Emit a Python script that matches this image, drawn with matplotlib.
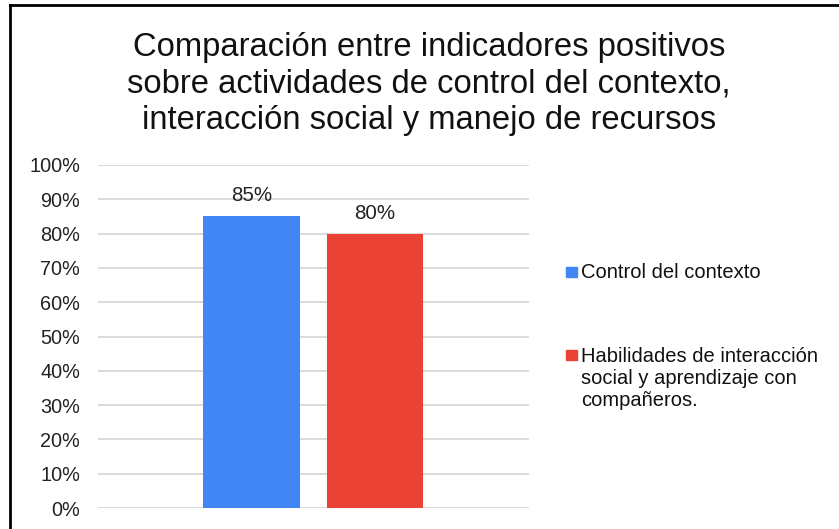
import matplotlib
matplotlib.use("Agg")
import matplotlib.pyplot as plt
from matplotlib.lines import Line2D
from matplotlib.patches import Rectangle

plt.rcParams['font.family'] = ['Liberation Sans', 'DejaVu Sans']

title = "Comparación entre indicadores positivos\nsobre actividades de control del contexto,\ninteracción social y manejo de recursos"
series = ["Control del contexto",
          "Habilidades de interacción\nsocial y aprendizaje con\ncompañeros."]
values = [0.85, 0.80]
value_labels = ["85%", "80%"]
colors = ["#4285F4", "#EA4335"]
yticks = [0, 0.1, 0.2, 0.3, 0.4, 0.5, 0.6, 0.7, 0.8, 0.9, 1.0]
ytick_labels = ["0%", "10%", "20%", "30%", "40%", "50%", "60%", "70%", "80%", "90%", "100%"]

W, H = 839, 529
fig = plt.figure(figsize=(W / 100, H / 100), dpi=100)
fig.patch.set_facecolor("white")

ax = fig.add_axes([98 / W, (H - 508) / H, 431 / W, 343 / H])
xs = [0, 1]
ax.bar(xs, values, width=0.785, color=colors, zorder=3)
for x, v, lab in zip(xs, values, value_labels):
    ax.annotate(lab, (x, v), xytext=(0, 15), textcoords="offset pixels",
                ha="center", va="baseline", fontsize=14.8, color="#222222")
ax.set_xlim(-1.243, 2.247)
ax.set_ylim(0, 1.0)
ax.set_yticks(yticks)
ax.set_yticklabels(ytick_labels, fontsize=14.3, color="#222222")
ax.set_xticks([])
ax.tick_params(axis="y", length=0, pad=13)
ax.grid(axis="y", color="#d4d4d4", linewidth=1.2, zorder=0)
for s in ax.spines.values():
    s.set_visible(False)

fig.text(429 / W, 1 - 129 / H, title, ha="center", va="baseline", fontsize=23.6,
         linespacing=1.22, color="#111111")

# legend
leg_center = [271.5, 354.5]
leg_last_baseline = [278, 406]
for yc, yb, lab, c in zip(leg_center, leg_last_baseline, series, colors):
    fig.add_artist(Rectangle((566 / W, 1 - (yc + 5) / H), 11 / W, 10 / H,
                             transform=fig.transFigure, color=c))
    fig.text(581 / W, 1 - yb / H, lab, ha="left", va="baseline", fontsize=14.5,
             linespacing=1.2, color="#111111")

# border (top and left)
fig.add_artist(Line2D([10 / W, 10 / W], [0, 1 - 5 / H], transform=fig.transFigure,
                      color="black", linewidth=2))
fig.add_artist(Line2D([10 / W, 1], [1 - 5 / H, 1 - 5 / H], transform=fig.transFigure,
                      color="black", linewidth=2))

fig.savefig("out.png", dpi=100, facecolor="white")
